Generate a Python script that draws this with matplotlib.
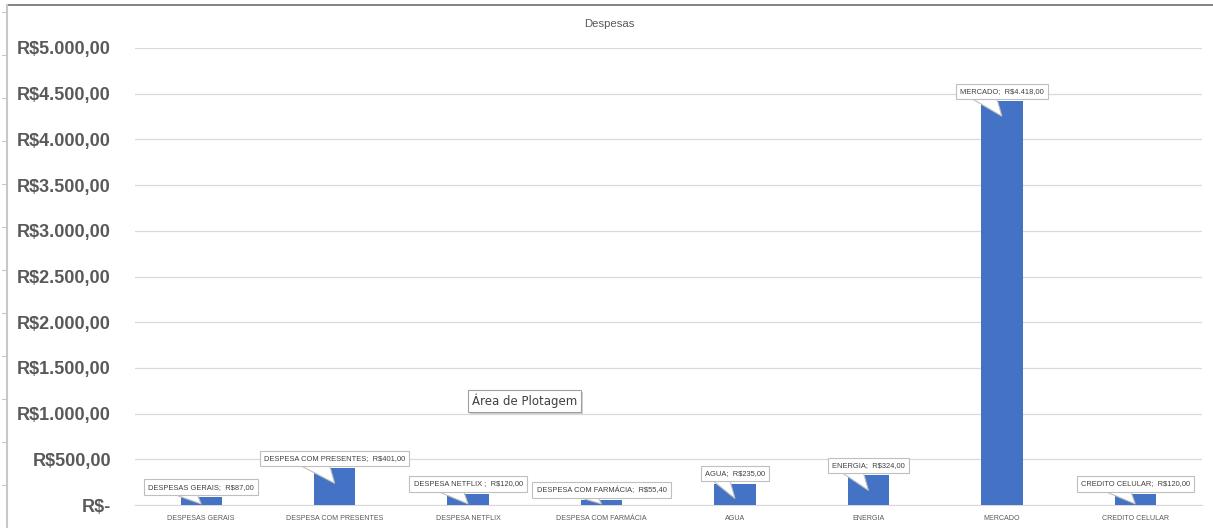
import matplotlib.pyplot as plt
import matplotlib.patheffects as pe
from matplotlib.ticker import FuncFormatter
from matplotlib.lines import Line2D
from matplotlib.patches import Polygon
from matplotlib.transforms import ScaledTranslation, IdentityTransform

categorias = ["DESPESAS GERAIS", "DESPESA COM PRESENTES", "DESPESA NETFLIX", "DESPESA COM FARMÁCIA",
              "AGUA", "ENERGIA", "MERCADO", "CREDITO CELULAR"]
rotulos = ["DESPESAS GERAIS", "DESPESA COM PRESENTES", "DESPESA NETFLIX ", "DESPESA COM FARMÁCIA",
           "AGUA", "ENERGIA", "MERCADO", "CREDITO CELULAR"]
valores = [87.00, 401.00, 120.00, 55.40, 235.00, 324.00, 4418.00, 120.00]
yticks = [0, 500, 1000, 1500, 2000, 2500, 3000, 3500, 4000, 4500, 5000]

FONTE = "Liberation Sans"


def brl(v, pos=None):
    if v == 0:
        return "R$-"
    s = f"{v:,.2f}".replace(",", "X").replace(".", ",").replace("X", ".")
    return "R$" + s


fig = plt.figure(figsize=(12.13, 5.28), dpi=100)
ax = fig.add_axes([134.5 / 1213, 23 / 528, 1067.5 / 1213, 457 / 528])

x = range(len(categorias))
ax.bar(x, valores, width=0.31, color="#4472C4", zorder=3)
ax.set_xlim(-0.5, len(categorias) - 0.5)
ax.set_ylim(0, 5000)
ax.set_yticks(yticks)
ax.yaxis.set_major_formatter(FuncFormatter(brl))
ax.set_xticks(list(x))
ax.set_xticklabels(categorias, fontsize=5.1, color="#595959", family=FONTE)
for lab in ax.get_yticklabels():
    lab.set_family(FONTE)
    lab.set_fontweight("bold")
    lab.set_fontsize(13)
    lab.set_color("#595959")
ax.tick_params(axis="y", length=0, pad=17)
ax.tick_params(axis="x", length=0, pad=7.5)
ax.grid(axis="y", color="#d9d9d9", linewidth=0.9, zorder=0)
for s in ["top", "right", "left"]:
    ax.spines[s].set_visible(False)
ax.spines["bottom"].set_color("#d9d9d9")

# callouts, boxes ~10px above the bar top, tail from the box's left part to the bar
acima = ax.transData + ScaledTranslation(0, 10 / 100, fig.dpi_scale_trans)
y0 = ax.transData.transform((0, 0))[1]
renderer = fig.canvas.get_renderer()
for i, (r, v) in enumerate(zip(rotulos, valores)):
    t = ax.text(i, v, f"{r};  {brl(v)}", transform=acima,
                fontsize=5.4, color="#404040", family=FONTE,
                ha="center", va="center", zorder=6,
                bbox=dict(boxstyle="square,pad=0.55", fc="white", ec="#bfbfbf", lw=0.8))
    half = t.get_window_extent(renderer).width / 2 + 3
    bx, by = ax.transData.transform((i, v))
    tip_y = max(by - 15, y0 + 1)
    esq = min(48, half - 2)
    tail = Polygon([(bx - esq, by + 10), (bx - 7, by + 10), (bx, tip_y)], closed=True,
                   transform=IdentityTransform(), fc="white", ec="#bfbfbf", lw=0.8,
                   zorder=5, clip_on=False)
    ax.add_patch(tail)

fig.text(609 / 1213, 1 - 24 / 528, "Despesas", ha="center", va="center", fontsize=8.2,
         color="#595959", family=FONTE)

# tooltip
tip = fig.text(472 / 1213, 1 - 401 / 528, "Área de Plotagem", ha="left", va="center",
               fontsize=8.5, color="#404040", family="DejaVu Sans",
               bbox=dict(boxstyle="square,pad=0.35", fc="white", ec="#a0a0a0", lw=0.8))
tip.get_bbox_patch().set_path_effects([pe.SimplePatchShadow(offset=(1.5, -1.5), alpha=0.25),
                                       pe.Normal()])

# window frame
fig.add_artist(Line2D([8 / 1213, 1], [1 - 5 / 528, 1 - 5 / 528], color="#6e6e6e", lw=1.2))
fig.add_artist(Line2D([7 / 1213, 7 / 1213], [0, 1 - 5 / 528], color="#c8c8c8", lw=1.5))
for k in range(12):
    yy = 1 - (12 + k * 43) / 528
    fig.add_artist(Line2D([2 / 1213, 7 / 1213], [yy, yy], color="#c8c8c8", lw=0.8))

fig.savefig("out.png", dpi=100)
